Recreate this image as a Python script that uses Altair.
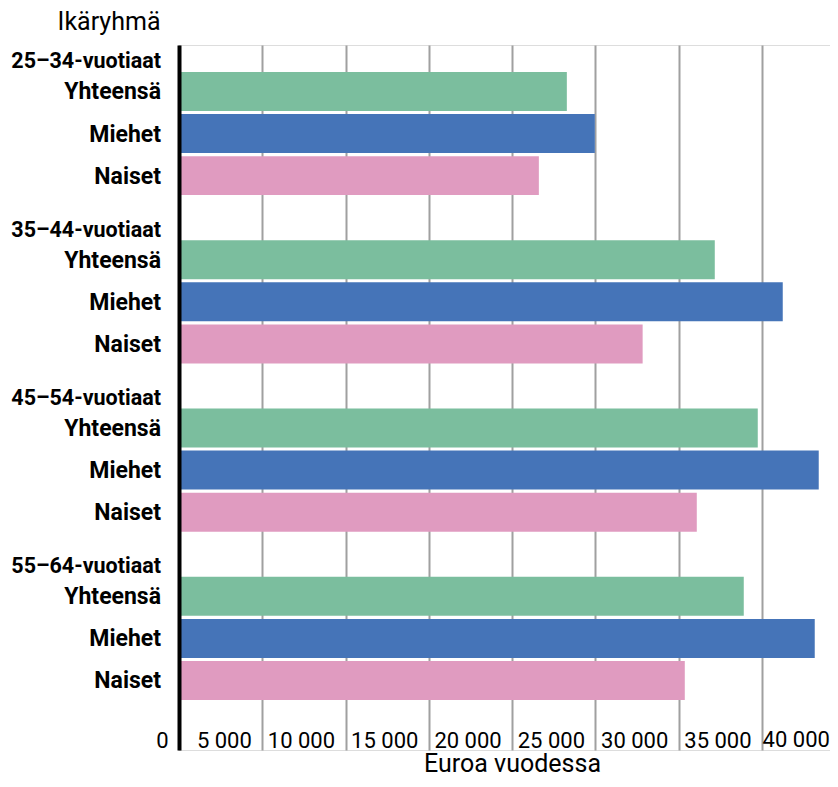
import altair as alt
import pandas as pd

groups = ["25–34-vuotiaat", "35–44-vuotiaat", "45–54-vuotiaat", "55–64-vuotiaat"]
series = ["Yhteensä", "Miehet", "Naiset"]
totals = [23280, 32160, 34740, 33900]
men = [24960, 36240, 38400, 38160]
women = [21600, 27830, 31080, 30360]
colors = ["#7bbe9e", "#4574b8", "#e09bc0"]
x_ticks = [0, 5000, 10000, 15000, 20000, 25000, 30000, 35000]
x_last_tick = [40000]
x_max = 39076

series_values = {"Yhteensä": totals, "Miehet": men, "Naiset": women}

HALF = 0.4635
bar_rows = []
label_rows = []
for gi, g in enumerate(groups):
    header_row = gi * 4
    label_rows.append({"row": header_row, "text": g, "kind": "header"})
    for si, s in enumerate(series):
        r = header_row + 1 + si
        bar_rows.append({
            "series": s,
            "value": series_values[s][gi],
            "base": 0,
            "lo": r - HALF,
            "hi": r + HALF,
        })
        label_rows.append({"row": r, "text": s, "kind": "sub"})

bars_df = pd.DataFrame(bar_rows)
labels_df = pd.DataFrame(label_rows)
last_tick_df = pd.DataFrame({"value": x_last_tick})

FONT = "Roboto"
PLOT_W = 651
PLOT_H = 705
TICK_LABEL_PAD = -3

x_scale = alt.Scale(domain=[0, x_max], nice=False, zero=True)
y_scale = alt.Scale(domain=[-0.105, 16.653], reverse=True, nice=False, zero=False)
y_axis = alt.Axis(
    labels=False, ticks=False, grid=False,
    domainColor="black", domainWidth=4,
    title="Ikäryhmä", titleAngle=0, titleAlign="right", titleBaseline="alphabetic",
    titleX=-19, titleY=-16, titleFontSize=25, titleFontWeight="normal",
    titleColor="black", titleFont=FONT, zindex=1,
)

x_axis = alt.Axis(
    values=x_ticks, grid=True, gridColor="#a0a0a0", gridWidth=2,
    domain=False, ticks=False, tickSize=0,
    labelAlign="right", labelOffset=-11, labelBaseline="alphabetic",
    labelPadding=TICK_LABEL_PAD,
    labelFontSize=22, labelFont=FONT, labelColor="black",
    labelExpr="replace(format(datum.value, ',d'), ',', ' ')",
    labelOverlap=False, labelFlush=False,
    title="Euroa vuodessa", titleFontSize=25, titleFontWeight="normal",
    titleFont=FONT, titleColor="black", titleX=333, titleAlign="center",
    titleY=21, titleBaseline="alphabetic",
)

bars = alt.Chart(bars_df).mark_rect().encode(
    x=alt.X("value:Q", scale=x_scale, axis=x_axis),
    x2="base:Q",
    y=alt.Y("lo:Q", scale=y_scale, axis=y_axis),
    y2="hi:Q",
    color=alt.Color("series:N", scale=alt.Scale(domain=series, range=colors), legend=None),
)

last_tick = alt.Chart(last_tick_df).transform_calculate(
    label="replace(format(datum.value, ',d'), ',', ' ')"
).mark_text(
    align="right", baseline="alphabetic", fontSize=22, font=FONT, color="black", dx=-15.5,
).encode(
    x=alt.X("value:Q", scale=x_scale, axis=x_axis),
    y=alt.value(PLOT_H + TICK_LABEL_PAD),
    text="label:N",
)

sub_labels = alt.Chart(labels_df).transform_filter(alt.datum.kind == "sub").mark_text(
    align="right", baseline="middle", fontWeight="bold", fontSize=23, font=FONT,
    color="black", dy=1,
).encode(
    x=alt.value(-18),
    y=alt.Y("row:Q", scale=y_scale, axis=y_axis),
    text="text:N",
)

header_labels = alt.Chart(labels_df).transform_filter(alt.datum.kind == "header").mark_text(
    align="right", baseline="middle", fontWeight="bold", fontSize=21.5, font=FONT,
    color="black", dy=13,
).encode(
    x=alt.value(-18),
    y=alt.Y("row:Q", scale=y_scale, axis=y_axis),
    text="text:N",
)

chart = alt.layer(bars, last_tick, sub_labels, header_labels).properties(
    width=PLOT_W, height=PLOT_H,
    autosize=alt.AutoSizeParams(type="none"),
    padding={"left": 171, "top": 37, "right": 0, "bottom": 25},
).configure_view(stroke=None).configure(font=FONT)

chart.save("out.html", embed_options={"renderer": "svg", "actions": False})
